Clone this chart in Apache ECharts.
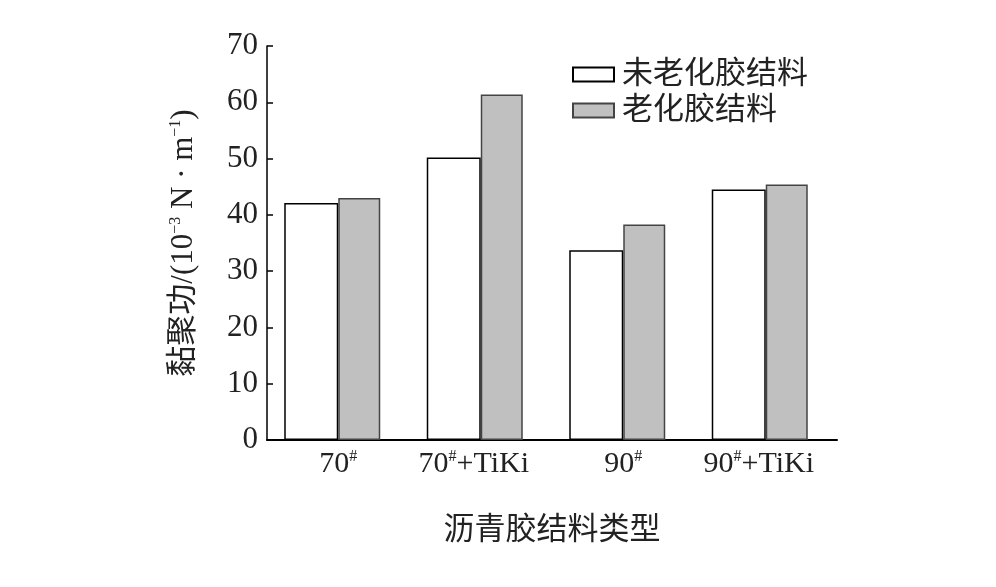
<!DOCTYPE html>
<html>
<head>
<meta charset="utf-8">
<script src="https://cdn.jsdelivr.net/npm/echarts@6/dist/echarts.min.js"></script>
<style>html,body{margin:0;padding:0;background:#fff;}#c{width:996px;height:587px;}</style>
</head>
<body>
<div id="c"></div>
<script>
var categories = ['70#', '70#+TiKi', '90#', '90#+TiKi'];
var unaged = [42.1, 50.2, 33.7, 44.5];
var aged = [43.0, 61.4, 38.3, 45.4];
var seriesNames = ['未老化胶结料', '老化胶结料'];
var yTicks = { min: 0, max: 70, interval: 10 };

var serif = "'Liberation Serif', 'Noto Sans CJK SC', serif";
var chart = echarts.init(document.getElementById('c'));
chart.setOption({
  backgroundColor: '#fff',
  animation: false,
  grid: { left: 267, right: 159, top: 46, bottom: 147 },
  legend: {
    data: seriesNames,
    orient: 'vertical',
    left: 572,
    top: 59,
    padding: 0,
    icon: 'rect',
    itemWidth: 41,
    itemHeight: 14,
    itemGap: 5,
    itemStyle: { borderWidth: 2 },
    textStyle: { fontFamily: serif, fontSize: 31, color: '#222', padding: [0, 0, 0, 3] }
  },
  xAxis: {
    type: 'category',
    data: categories,
    name: '沥青胶结料类型',
    nameLocation: 'middle',
    nameGap: 75,
    nameTextStyle: { fontFamily: serif, fontSize: 31, color: '#222' },
    axisLine: { lineStyle: { color: '#000', width: 2 } },
    axisTick: { show: false },
    axisLabel: {
      interval: 0,
      margin: 9,
      fontFamily: serif, fontSize: 30, color: '#222',
      formatter: function (v) {
        var s = v.replace('#', '{sup|#}');
        return v.indexOf('+') >= 0 ? '{pre|}' + s + '{pad|}' : s;
      },
      rich: {
        sup: { fontFamily: serif, fontSize: 16, verticalAlign: 'top', color: '#222' },
        pad: { width: 14 },
        pre: { width: 0 }
      }
    }
  },
  yAxis: {
    type: 'value',
    min: yTicks.min, max: yTicks.max, interval: yTicks.interval,
    name: '黏聚功/(10{sup|−3} N · m{sup|−1})',
    nameLocation: 'middle',
    nameRotate: 90,
    nameGap: 68,
    nameTextStyle: {
      fontFamily: serif, fontSize: 31, color: '#222',
      padding: [0, 0, 0, 0],
      rich: { sup: { fontFamily: serif, fontSize: 16, verticalAlign: 'top', color: '#222' } }
    },
    splitLine: { show: false },
    axisLine: { show: true, lineStyle: { color: '#000', width: 1.5 } },
    axisTick: { show: true, inside: true, length: 6, lineStyle: { color: '#000', width: 1.5 } },
    axisLabel: { margin: 9, fontFamily: serif, fontSize: 31, color: '#222' }
  },
  series: [
    {
      name: seriesNames[0], type: 'bar', data: unaged,
      barWidth: 54, barGap: '0%',
      itemStyle: { color: '#fff', borderColor: '#000', borderWidth: 1.5 }
    },
    {
      name: seriesNames[1], type: 'bar', data: aged,
      barWidth: 42, barGap: '0%',
      itemStyle: { color: '#c0c0c0', borderColor: '#444', borderWidth: 1.5 }
    },
    {
      name: 'spacer', type: 'bar', data: [], silent: true,
      barWidth: 12, barGap: '0%',
      itemStyle: { color: 'transparent' }
    }
  ]
});
</script>
</body>
</html>
